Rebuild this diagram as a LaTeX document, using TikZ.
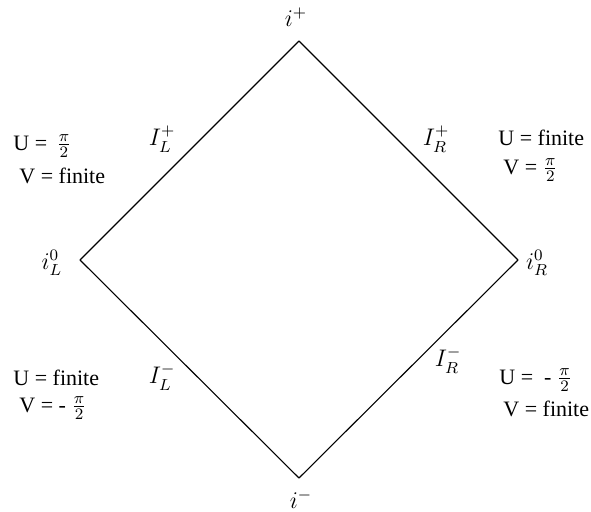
\documentclass[tikz,border=0pt]{standalone}
\usepackage{amsmath}
\usepackage{fontspec}
\setmainfont{LiberationSerif}[Extension=.ttf, UprightFont=*-Regular]
\usepackage{tikz}
\usetikzlibrary{positioning}
\tikzset{
  edgelab/.style={inner sep=1pt, font=\fontsize{12}{14}\selectfont},
  cond/.style={inner sep=0pt, anchor=base west, font=\rmfamily\fontsize{11}{13}\selectfont},
  every picture/.style={line cap=round, line join=round}
}

\begin{document}
\begin{tikzpicture}[x=0.5pt, y=-0.5pt]
  \useasboundingbox (0,0) rectangle (591,511);

  \coordinate (top) at (299,41);
  \coordinate (right) at (518,260);
  \coordinate (bottom) at (299,478);
  \coordinate (left) at (80,260);

  \draw[line width=0.55pt] (top)--(right)--(bottom)--(left)--cycle;

  \node[edgelab] (ip) at (296,17) {$i^{+}$};
  \node[edgelab] (im) at (301,499) {$i^{-}$};
  \node[edgelab] (iL) at (52,263) {$i_{L}^{0}$};
  \node[edgelab] (iR) at (537,263) {$i_{R}^{0}$};

  \node[edgelab] (ILp) at (162,139) {$I_{L}^{+}$};
  \node[edgelab] (IRp) at (436,139) {$I_{R}^{+}$};
  \node[edgelab] (ILm) at (162,377) {$I_{L}^{-}$};
  \node[edgelab] (IRm) at (448,360) {$I_{R}^{-}$};

  \node[cond] (ulp) at (13,150) {U = \,$\frac{\pi}{2}$};
  \node[cond] (vlp) at (19,183) {V = finite};
  \node[cond] (urp) at (498,145) {U = finite};
  \node[cond] (vrp) at (503,174) {V = $\frac{\pi}{2}$};
  \node[cond] (ulm) at (13,385) {U = finite};
  \node[cond] (vlm) at (19,412) {V = - $\frac{\pi}{2}$};
  \node[cond] (urm) at (499,384) {U = \ - $\frac{\pi}{2}$};
  \node[cond] (vrm) at (503,416) {V = finite};
\end{tikzpicture}
\end{document}
